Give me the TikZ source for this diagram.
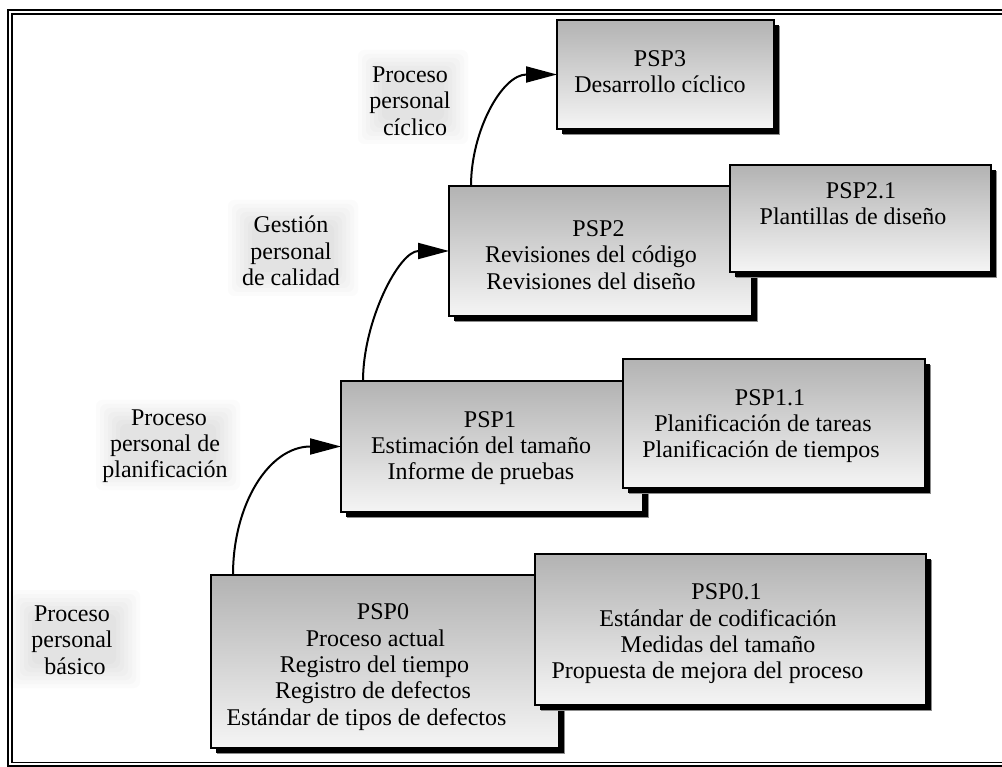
\documentclass[tikz,border=0pt]{standalone}
\usepackage{fontspec}
\setmainfont{Liberation Serif}
\usetikzlibrary{arrows.meta,shadows,calc}

\begin{document}
\begin{tikzpicture}[x=1pt,y=-1pt,
  stagebox/.style={draw=black, line width=2.2pt, top color=black!30, bottom color=black!4,
    inner sep=0pt, outer sep=0pt,
    general shadow={fill=black!45, shadow xshift=6.2pt, shadow yshift=-6.2pt},
    general shadow={fill=black, shadow xshift=5.2pt, shadow yshift=-5.2pt}},
  stagetext/.style={align=center, inner sep=0pt, font=\fontsize{24}{26.3}\selectfont},
  flow/.style={line width=2pt, -{Triangle[length=31pt,width=16pt]}}
]
\useasboundingbox (0,0) rectangle (1002,767);

% double frame (the right side lies off the page)
\draw[line width=2.4pt] (1004,10) -- (7.8,10) -- (7.8,766) -- (1004,766);
\draw[line width=1.7pt] (1004,13.7) -- (11.8,13.7) -- (11.8,762.5) -- (1004,762.5);

% soft halos behind the level captions
\foreach \xa/\ya/\xb/\yb in {8/590/140/688, 96/400/240/490, 228/200/358/296, 358/50/468/144}
  \foreach \i in {0,...,6}
    \fill[black, opacity=0.016, rounded corners=6pt]
      ({\xa+4*\i},{\ya+4*\i}) rectangle ({\xb-4*\i},{\yb-4*\i});

% level captions
\node[stagetext] (lvl0) at (72,640) {Proceso\\personal\\\hspace*{6pt}básico};
\node[stagetext] (lvl1) at (165,446) {\hspace*{8pt}Proceso\\personal de\\planificación};
\node[stagetext] (lvl2) at (291,251) {Gestión\\personal\\de calidad};
\node[stagetext] (lvl3) at (410,101) {Proceso\\personal\\\hspace*{10pt}cíclico};

% stage boxes, back to front
\node[stagebox, minimum width=348pt, minimum height=173pt] (psp0)  at (385,661.5) {};
\node[stagetext] (psp0t) at (374,667)
  {\hspace*{18pt}PSP0\\\hspace*{3pt}Proceso actual\\\hspace*{1pt}Registro del tiempo\\
   \hspace*{-2pt}Registro de defectos\\\hspace*{-15pt}Estándar de tipos de defectos};
\node[stagebox, minimum width=391pt, minimum height=151pt] (psp01) at (730.5,629.5) {};
\node[stagetext] (psp01t) at (718,634)
  {\hspace*{17pt}PSP0.1\\Estándar de codificación\\Medidas del tamaño\\
   \hspace*{-21pt}Propuesta de mejora del proceso};

\node[stagebox, minimum width=302pt, minimum height=131pt] (psp1)  at (492,446.5) {};
\node[stagetext] (psp1t) at (481,448)
  {\hspace*{18pt}PSP1\\Estimación del tamaño\\Informe de pruebas};
\node[stagebox, minimum width=302pt, minimum height=129pt] (psp11) at (774,423.5) {};
\node[stagetext] (psp11t) at (762,426)
  {\hspace*{16pt}PSP1.1\\\hspace*{2pt}Planificación de tareas\\\hspace*{-2pt}Planificación de tiempos};

\node[stagebox, minimum width=303pt, minimum height=130pt] (psp2)  at (600.5,251) {};
\node[stagetext] (psp2t) at (591,255)
  {\hspace*{15pt}PSP2\\Revisiones del código\\Revisiones del diseño};
\node[stagebox, minimum width=261pt, minimum height=107pt] (psp21) at (860.5,218.5) {};
\node[stagetext] (psp21t) at (853,204)
  {\hspace*{16pt}PSP2.1\\Plantillas de diseño};

\node[stagebox, minimum width=217pt, minimum height=109pt] (psp3)  at (665.5,74.5) {};
\node[stagetext] (psp3t) at (660,72)
  {PSP3\\Desarrollo cíclico};

% progression arrows between levels
\draw[flow] ($(psp0.north west)+(22,0)$) .. controls +(0,-71) and +(-72,0) .. (psp1.west);
\draw[flow] ($(psp1.north west)+(22,0)$) .. controls +(0,-60) and +(-50,0) .. (psp2.west);
\draw[flow] ($(psp2.north west)+(22,0)$) .. controls +(0,-55) and +(-55,0) .. (psp3.west);
\end{tikzpicture}
\end{document}
